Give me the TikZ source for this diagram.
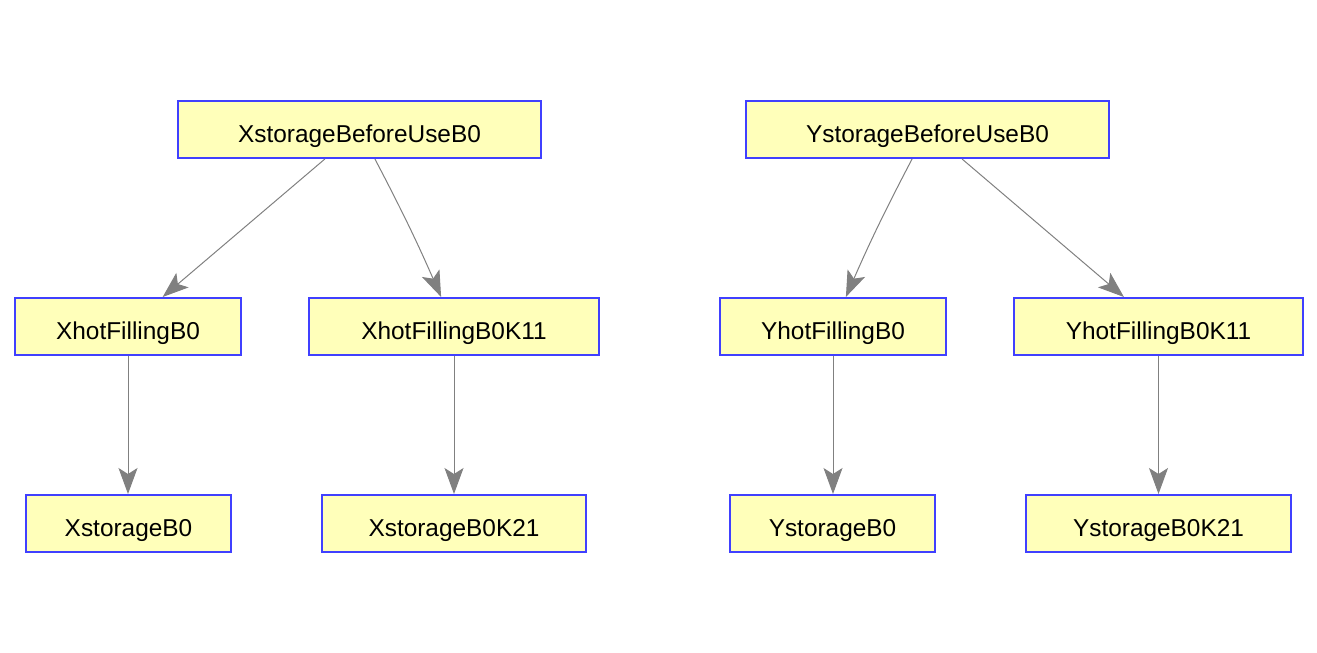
\documentclass[tikz,border=0pt]{standalone}
\usepackage{fontspec}
\setmainfont{Liberation Sans}
\usepackage{xcolor}
\usetikzlibrary{arrows.meta,shapes}

\definecolor{boxfill}{RGB}{255,255,186}
\definecolor{boxline}{RGB}{64,64,255}
\definecolor{edgegray}{RGB}{128,128,128}

\begin{document}
\begin{tikzpicture}[x=0.5pt,y=-0.5pt,
        state/.style={draw=boxline, fill=boxfill, line width=1pt, rectangle,
            minimum height=28.5pt, inner sep=0pt, text height=12.5pt, text depth=0pt,
            font=\fontsize{12.2}{14}\selectfont},
        flow/.style={draw=edgegray, line width=0.5pt,
            -{Stealth[length=13pt,width=9.5pt,inset=3pt]}}]
        \useasboundingbox (0,0) rectangle (1317,653);
        % X chain
        \node[state, minimum width=181.5pt] (xroot) at (359.5,129.5) {XstorageBeforeUseB0};
        \node[state, minimum width=113pt] (xhot) at (128,326.5) {XhotFillingB0};
        \node[state, minimum width=145pt] (xhotk) at (454,326.5) {XhotFillingB0K11};
        \node[state, minimum width=102.5pt] (xsto) at (128.5,523.5) {XstorageB0};
        \node[state, minimum width=132pt] (xstok) at (454,523.5) {XstorageB0K21};
        % Y chain
        \node[state, minimum width=181.5pt] (yroot) at (927.5,129.5) {YstorageBeforeUseB0};
        \node[state, minimum width=113pt] (yhot) at (833,326.5) {YhotFillingB0};
        \node[state, minimum width=144.5pt] (yhotk) at (1158.5,326.5) {YhotFillingB0K11};
        \node[state, minimum width=102.5pt] (ysto) at (832.5,523.5) {YstorageB0};
        \node[state, minimum width=132.5pt] (ystok) at (1158.5,523.5) {YstorageB0K21};

        \draw[flow] (xroot) -- (xhot);
        \draw[flow] (xroot) to[bend left=2] (xhotk);
        \draw[flow] (xhot.south) -- (xhot.south |- xsto.north);
        \draw[flow] (xhotk) -- (xstok);
        \draw[flow] (yroot) to[bend right=2] (yhot);
        \draw[flow] (yroot) -- (yhotk);
        \draw[flow] (yhot.south) -- (yhot.south |- ysto.north);
        \draw[flow] (yhotk) -- (ystok);
\end{tikzpicture}
\end{document}
